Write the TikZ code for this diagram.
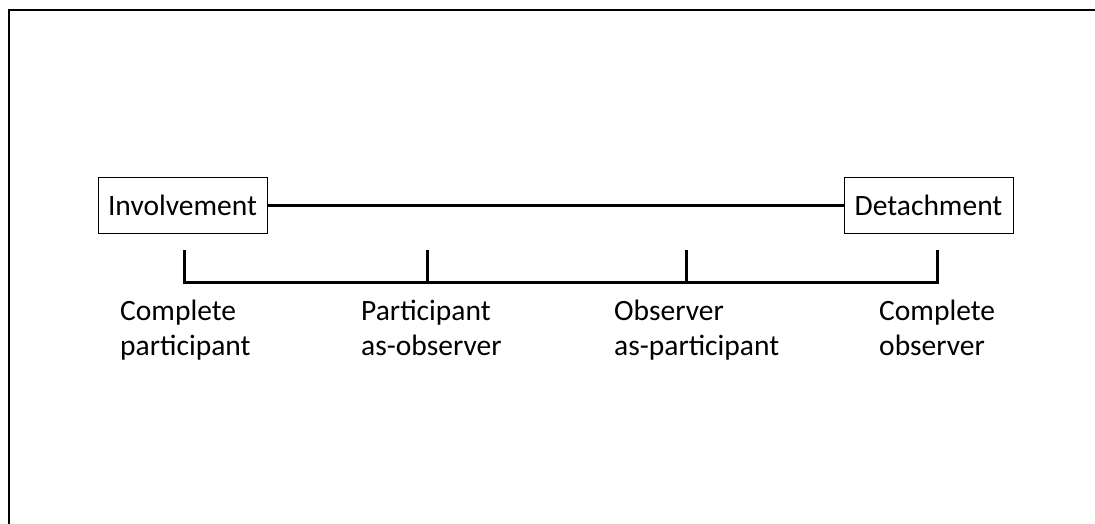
\documentclass[tikz,border=0pt]{standalone}
\usepackage{fontspec}
\setmainfont{Carlito}
\begin{document}
\begin{tikzpicture}[x=1pt,y=-1pt,
  endbox/.style={draw=black,line width=1pt,minimum width=169pt,minimum height=56pt,inner sep=0pt,font=\fontsize{29.5}{35}\selectfont},
  lbl/.style={anchor=base west,align=left,inner sep=0pt,font=\fontsize{29.5}{35}\selectfont},
  thick line/.style={line width=3pt},
  frame/.style={line width=2pt}]
\useasboundingbox (0,0) rectangle (1095,524);
% frame (top and left edges only)
\coordinate (ftr) at (1095,10);
\coordinate (ftl) at (9,10);
\coordinate (fbl) at (9,524);
\draw[frame] (ftr) -- (ftl) -- (fbl);
% end boxes
\node[endbox] (inv) at (182.5,205) {Involvement};
\node[endbox] (det) at (928.5,205) {Detachment};
\draw[thick line] (inv.east) -- (det.west);
% bracket
\coordinate (t1) at (184,250);
\coordinate (t2) at (427,250);
\coordinate (t3) at (686,250);
\coordinate (t4) at (937,250);
\coordinate (b1) at (184,282);
\coordinate (b2) at (427,282);
\coordinate (b3) at (686,282);
\coordinate (b4) at (937,282);
\draw[thick line,line join=miter] (t1) -- (b1) -- (b4) -- (t4);
\draw[thick line] (t2) -- (b2);
\draw[thick line] (t3) -- (b3);
% labels (base anchor = last line's baseline)
\node[lbl] (l1) at (120,355) {Complete\\participant};
\node[lbl] (l2) at (361,355) {Participant\\as-observer};
\node[lbl] (l3) at (614,355) {Observer\\as-participant};
\node[lbl] (l4) at (879,355) {Complete\\observer};
\end{tikzpicture}
\end{document}
